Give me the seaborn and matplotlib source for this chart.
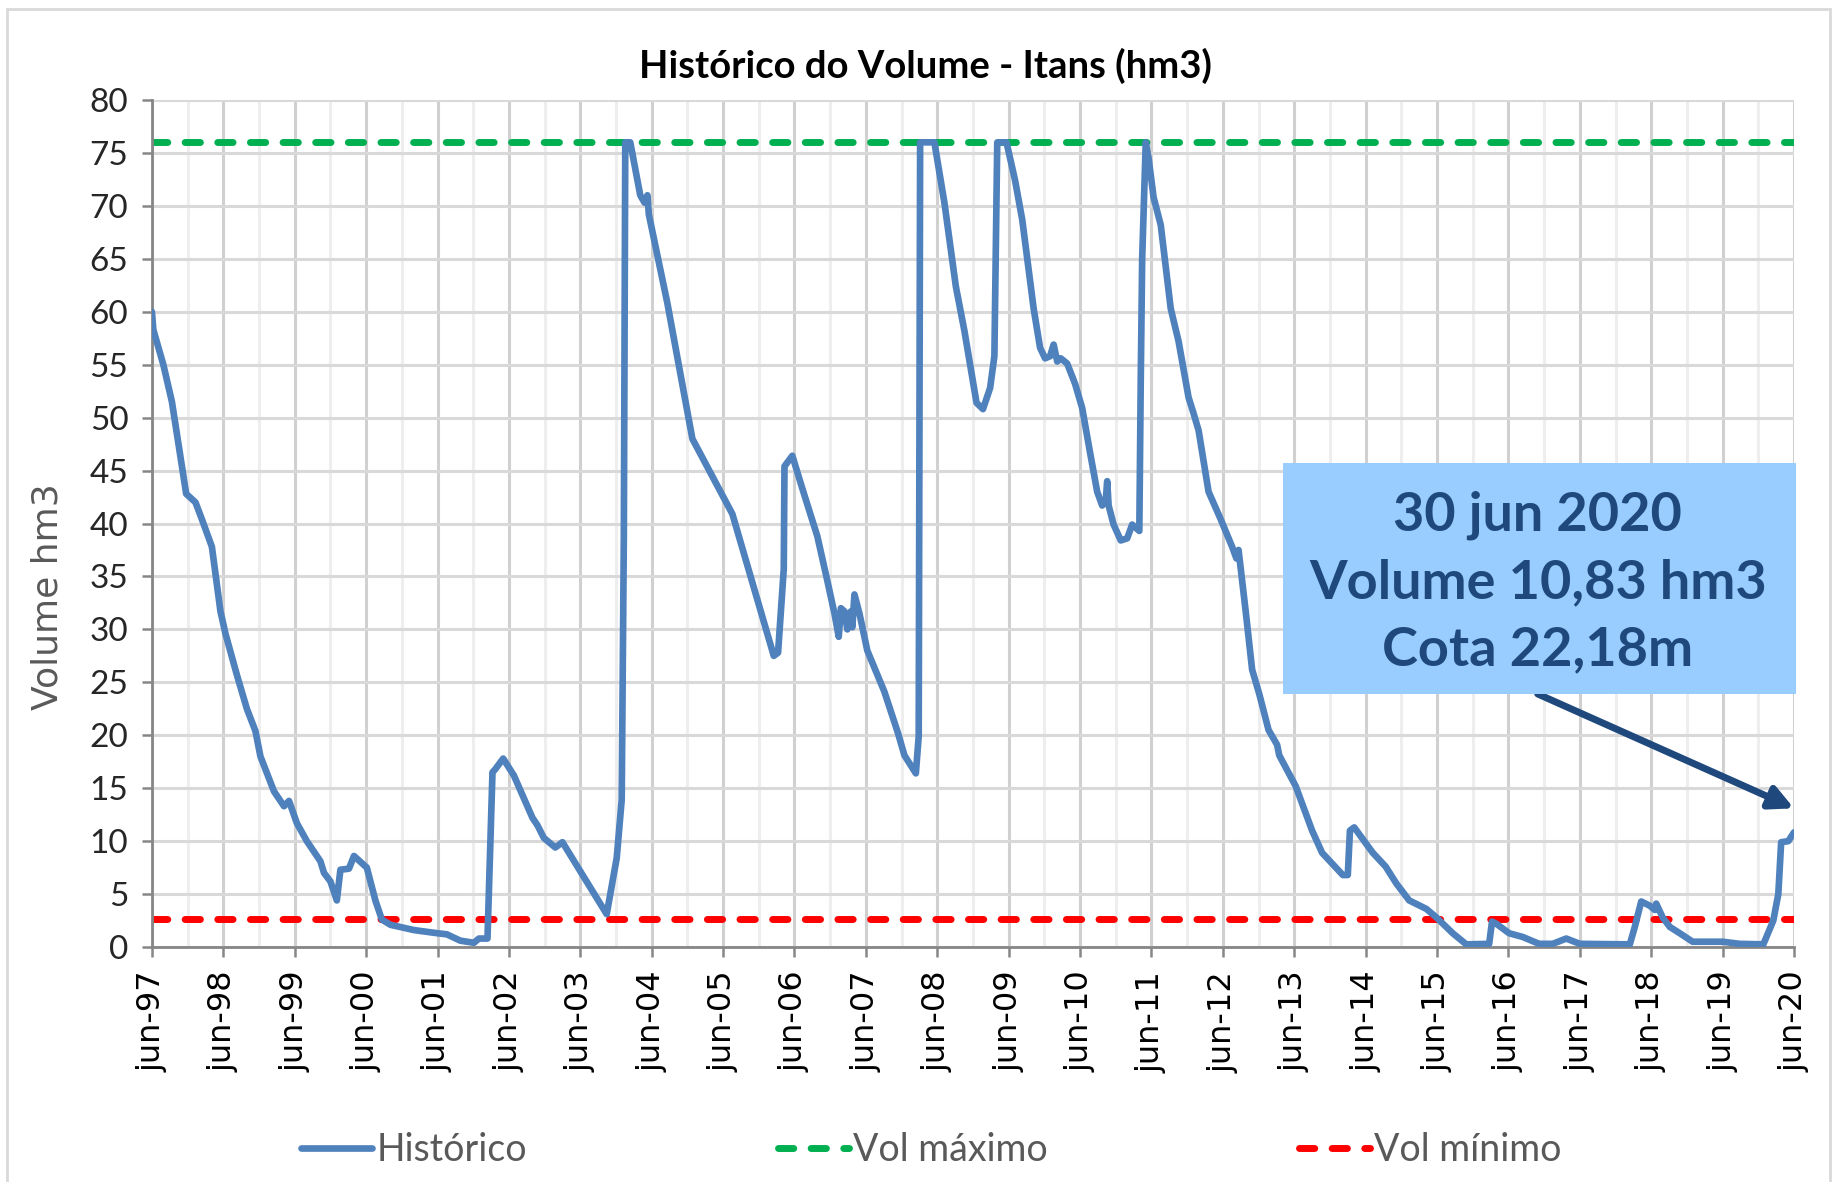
import numpy as np
import matplotlib
matplotlib.use("Agg")
import matplotlib.pyplot as plt
from matplotlib.patches import Rectangle
import seaborn as sns

# Historico do volume - acude Itans (hm3)
# x = anos desde jun-97
anos = [0.00, 0.02, 0.16, 0.28, 0.40, 0.48, 0.61, 0.70, 0.84, 0.96, 1.03, 1.19, 1.33,
        1.45, 1.52, 1.71, 1.85, 1.92, 2.03, 2.17, 2.36, 2.41, 2.50, 2.59, 2.64, 2.76,
        2.83, 3.01, 3.13, 3.22, 3.34, 3.67, 4.00, 4.13, 4.32, 4.51, 4.58, 4.70, 4.77,
        4.81, 4.92, 5.07, 5.33, 5.40, 5.49, 5.65, 5.75, 6.37, 6.51, 6.58, 6.61, 6.63,
        6.70, 6.77, 6.84, 6.90, 6.94, 6.96, 7.22, 7.57, 8.13, 8.71, 8.77, 8.85, 8.86,
        8.97, 9.11, 9.32, 9.46, 9.56, 9.62, 9.65, 9.70, 9.74, 9.79, 9.81, 9.84, 9.91,
        10.02, 10.26, 10.45, 10.54, 10.70, 10.74, 10.75, 10.76, 10.96, 11.10, 11.26,
        11.38, 11.55, 11.64, 11.74, 11.80, 11.84, 11.97, 12.09, 12.19, 12.28, 12.35,
        12.44, 12.51, 12.58, 12.63, 12.68, 12.73, 12.82, 12.93, 13.03, 13.14, 13.24,
        13.31, 13.36, 13.38, 13.40, 13.47, 13.57, 13.66, 13.73, 13.83, 13.85, 13.87,
        13.92, 13.96, 14.03, 14.13, 14.27, 14.38, 14.52, 14.59, 14.66, 14.80, 14.97,
        15.13, 15.19, 15.22, 15.32, 15.41, 15.51, 15.64, 15.76, 15.79, 16.02, 16.25,
        16.39, 16.68, 16.75, 16.78, 16.84, 17.10, 17.28, 17.43, 17.61, 17.85, 17.99,
        18.22, 18.41, 18.73, 18.77, 18.83, 19.01, 19.20, 19.43, 19.62, 19.81, 20.00,
        20.70, 20.77, 20.86, 20.98, 21.05, 21.07, 21.16, 21.26, 21.40, 21.58, 22.00,
        22.24, 22.57, 22.71, 22.78, 22.82, 22.92, 23.00]
volume = [60.0, 58.3, 55.0, 51.5, 46.3, 42.8, 42.0, 40.4, 37.8, 31.7, 29.6, 25.7, 22.5,
          20.4, 18.0, 14.7, 13.3, 13.8, 11.7, 10.0, 8.1, 7.0, 6.2, 4.4, 7.3, 7.4,
          8.6, 7.5, 4.4, 2.6, 2.1, 1.6, 1.3, 1.2, 0.6, 0.4, 0.8, 0.8, 16.5,
          16.8, 17.8, 16.2, 12.2, 11.5, 10.3, 9.4, 9.9, 3.1, 8.4, 13.9, 38.8, 76.0,
          76.0, 73.5, 71.0, 70.3, 71.0, 69.2, 60.8, 48.0, 40.9, 27.5, 27.8, 35.7, 45.4,
          46.4, 43.3, 38.8, 34.6, 31.5, 29.3, 32.0, 31.7, 30.0, 31.7, 30.2, 33.3, 31.5,
          28.0, 24.1, 20.2, 18.1, 16.4, 19.9, 49.3, 76.0, 76.0, 70.3, 62.4,
          58.2, 51.4, 50.8, 52.8, 55.8, 76.0, 76.0, 72.4, 68.7, 64.0, 60.3,
          56.6, 55.6, 55.8, 56.9, 55.3, 55.6, 55.1, 53.2, 50.9, 46.7, 43.0,
          41.7, 42.2, 44.0, 41.7, 39.9, 38.4, 38.6, 39.9, 39.3, 53.5, 65.0,
          76.0, 74.5, 70.8, 68.2, 60.3, 57.2, 51.9, 50.4, 48.8, 43.0, 40.4,
          37.8, 36.7, 37.5, 31.7, 26.2, 23.9, 20.5, 19.1, 18.1, 15.2, 11.0,
          8.9, 6.8, 6.8, 11.0, 11.3, 8.9, 7.6, 6.0, 4.4, 3.6, 2.8,
          1.3, 0.25, 0.3, 2.4, 2.2, 1.3, 0.95, 0.3, 0.3, 0.8, 0.3,
          0.25, 1.9, 4.3, 3.9, 3.5, 4.1, 2.8, 1.9, 1.3, 0.5, 0.5,
          0.3, 0.25, 2.5, 5.0, 9.9, 10.0, 10.83]

vol_max = 76.0
vol_min = 2.6
rotulos_x = ["jun-%02d" % (a % 100) for a in range(1997, 2021)]
caixa_texto = "30 jun 2020\nVolume 10,83 hm3\nCota 22,18m"

azul = "#4F81BD"
verde = "#00B050"
vermelho = "#FF0000"
navy = "#1F497D"
fonte = ["Lato", "DejaVu Sans"]

sns.set_style("white")
plt.rcParams["font.family"] = ["DejaVu Sans"]

fig = plt.figure(figsize=(18.37, 11.82), dpi=100)
ax = fig.add_axes([0.0827, 0.1988, 0.8939, 0.7166])

sns.lineplot(x=anos, y=volume, ax=ax, color=azul, linewidth=4.8, sort=False,
             estimator=None, label="Histórico", zorder=3)
ax.axhline(vol_max, color=verde, linewidth=5, dashes=(2.2, 2.5),
           dash_capstyle="round", label="Vol máximo", zorder=2)
ax.axhline(vol_min, color=vermelho, linewidth=5, dashes=(2.2, 2.5),
           dash_capstyle="round", label="Vol mínimo", zorder=2)

ax.set_xlim(0, 23)
ax.set_ylim(0, 80)
ax.set_xticks(range(24))
ax.set_xticks(np.arange(0.5, 23, 1), minor=True)
ax.set_xticklabels(rotulos_x, rotation=90, fontsize=23, color="black")
ax.set_yticks(range(0, 81, 5))
ax.set_yticklabels([str(v) for v in range(0, 81, 5)], fontsize=24, family=fonte)

ax.set_axisbelow(True)
ax.grid(axis="y", which="major", color="#D9D9D9", linewidth=2.2)
ax.grid(axis="x", which="major", color="#D0D0D0", linewidth=2.2)
ax.grid(axis="x", which="minor", color="#EEEEEE", linewidth=2.2)

for s in ["top", "right"]:
    ax.spines[s].set_visible(False)
for s in ["left", "bottom"]:
    ax.spines[s].set_color("#868686")
    ax.spines[s].set_linewidth(2)
ax.tick_params(axis="both", which="major", direction="out", length=7, width=1.8,
               color="#868686", pad=10, left=True, bottom=True)
ax.tick_params(axis="x", which="minor", length=0)

ax.set_xlabel("")
ax.set_ylabel("")
fig.text(0.026, 0.495, "Volume hm3", rotation=90, fontsize=26, color="#595959",
         ha="center", va="center")
fig.text(0.504, 0.944, "Histórico do Volume - Itans (hm3)", fontsize=27.5,
         fontweight="bold", family=fonte, color="black", ha="center", va="center")

# caixa de destaque
fig.patches.append(Rectangle((0.6984, 0.4129), 0.2793, 0.1954, transform=fig.transFigure,
                             facecolor="#99CCFF", edgecolor="none", zorder=5))
fig.text(0.8372, 0.5075, caixa_texto, fontsize=39, fontweight="bold", family=fonte,
         color=navy, ha="center", va="center", linespacing=1.45, zorder=6)
ax.annotate("", xy=(23, 13.1), xytext=(19.41, 23.9),
            arrowprops=dict(arrowstyle="-|>,head_length=1.4,head_width=0.7",
                            color=navy, linewidth=5, shrinkA=0, shrinkB=0),
            zorder=7, annotation_clip=False)

ax.get_legend().remove()
h, l = ax.get_legend_handles_labels()
leg = fig.legend(h, l, loc="center", bbox_to_anchor=(0.507, 0.027), ncol=3,
                 frameon=False, handlelength=1.9, handletextpad=0.1,
                 columnspacing=6.7, prop={"family": fonte, "size": 27})
for t in leg.get_texts():
    t.set_color("#595959")

# moldura externa
fig.patches.append(Rectangle((0.004, -0.01), 0.992, 1.002, transform=fig.transFigure,
                             facecolor="none", edgecolor="#D9D9D9", linewidth=2))

fig.savefig("out.png", dpi=100)
